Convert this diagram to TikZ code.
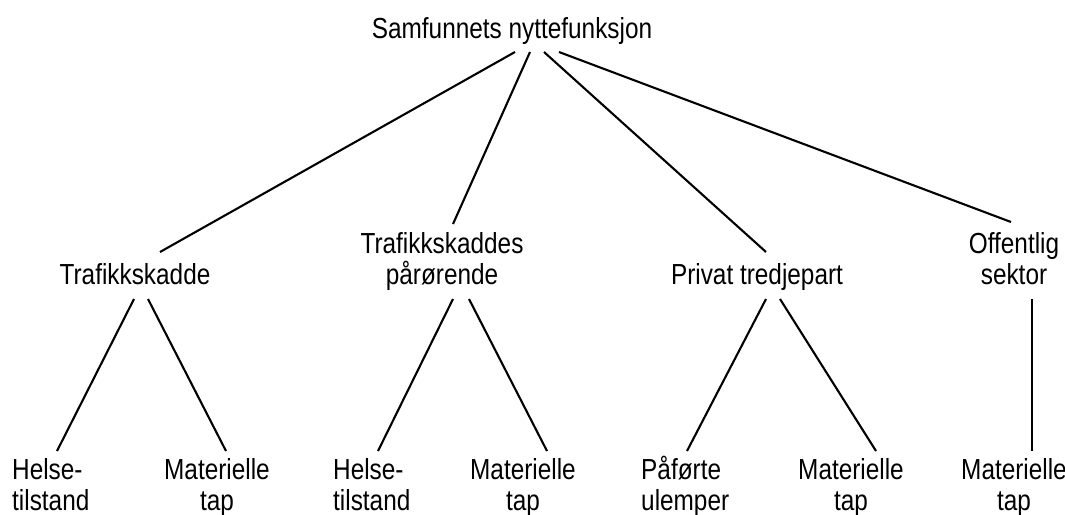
\documentclass[tikz,border=0pt]{standalone}
\usepackage{fontspec}
\setmainfont[FakeStretch=0.84]{Liberation Sans}
\begin{document}
\begin{tikzpicture}[x=1pt,y=-1pt,
  lbl/.style={inner sep=0pt,anchor=base,align=center,font=\fontsize{29}{30.5}\selectfont},
  lbll/.style={lbl,anchor=base west,align=left},
  edge/.style={line width=2.1pt}]
\useasboundingbox (0,0) rectangle (1065,514);
\node[lbl] (top) at (512,38) {Samfunnets nyttefunksjon};
\node[lbl] (m1) at (135,284) {Trafikkskadde};
\node[lbl] (m2) at (442,284) {Trafikkskaddes\\pårørende};
\node[lbl] (m3) at (757,284) {Privat tredjepart};
\node[lbl] (m4) at (1014,284) {Offentlig\\sektor};
\node[lbll] (b1) at (12,510) {Helse-\\tilstand};
\node[lbl] (b2) at (217,510) {Materielle\\tap};
\node[lbll] (b3) at (333,510) {Helse-\\tilstand};
\node[lbl] (b4) at (523,510) {Materielle\\tap};
\node[lbll] (b5) at (641,510) {Påførte\\ulemper};
\node[lbl] (b6) at (851,510) {Materielle\\tap};
\node[lbl] (b7) at (1014,510) {Materielle\\tap};
% connector ends
\coordinate (t1) at (515,52); \coordinate (m1a) at (160,252);
\coordinate (t2) at (530,52); \coordinate (m2a) at (453,224);
\coordinate (t3) at (544,52); \coordinate (m3a) at (766,252);
\coordinate (t4) at (559,52); \coordinate (m4a) at (1011,222);
\coordinate (m1l) at (134,299); \coordinate (b1a) at (57,451);
\coordinate (m1r) at (148,299); \coordinate (b2a) at (226,451);
\coordinate (m2l) at (453,299); \coordinate (b3a) at (378,451);
\coordinate (m2r) at (469,299); \coordinate (b4a) at (547,451);
\coordinate (m3l) at (766,299); \coordinate (b5a) at (687,451);
\coordinate (m3r) at (780,299); \coordinate (b6a) at (876,451);
\coordinate (m4b) at (1032,299); \coordinate (b7a) at (1032,451);
\draw[edge] (t1) -- (m1a);
\draw[edge] (t2) -- (m2a);
\draw[edge] (t3) -- (m3a);
\draw[edge] (t4) -- (m4a);
\draw[edge] (m1l) -- (b1a);
\draw[edge] (m1r) -- (b2a);
\draw[edge] (m2l) -- (b3a);
\draw[edge] (m2r) -- (b4a);
\draw[edge] (m3l) -- (b5a);
\draw[edge] (m3r) -- (b6a);
\draw[edge] (m4b) -- (b7a);
\end{tikzpicture}
\end{document}
